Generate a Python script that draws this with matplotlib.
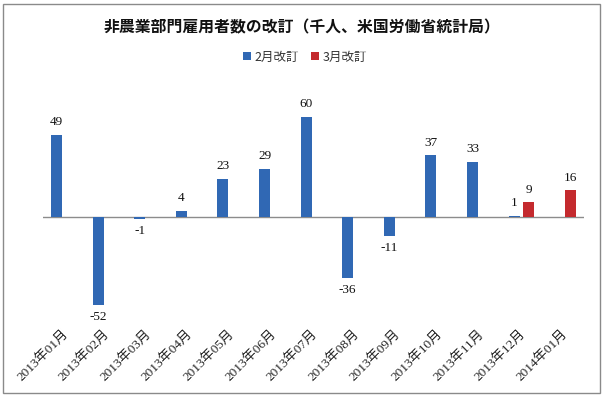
import numpy as np
import matplotlib
matplotlib.use("Agg")
import matplotlib.pyplot as plt
from matplotlib.patches import Rectangle, Patch

categories = ["2013年01月", "2013年02月", "2013年03月", "2013年04月", "2013年05月",
              "2013年06月", "2013年07月", "2013年08月", "2013年09月", "2013年10月",
              "2013年11月", "2013年12月", "2014年01月"]
feb_rev = [49, -52, -1, 4, 23, 29, 60, -36, -11, 37, 33, 1, None]
mar_rev = [None, None, None, None, None, None, None, None, None, None, None, 9, 16]
series_names = ["2月改訂", "3月改訂"]
title = "非農業部門雇用者数の改訂（千人、米国労働省統計局）"

BLUE = "#3068B4"
RED = "#C42A2E"
SERIF = ["Liberation Serif", "Noto Sans CJK JP"]
SANS = ["Noto Sans CJK JP", "DejaVu Sans"]

W, H = 604, 399
fig = plt.figure(figsize=(W / 100, H / 100), dpi=100)
fig.patch.set_facecolor("white")

# axes in pixel coords
ax_left, ax_right, ax_top, ax_bottom = 42.9, 583.7, 99.7, 319.8
ax = fig.add_axes([ax_left / W, 1 - ax_bottom / H, (ax_right - ax_left) / W, (ax_bottom - ax_top) / H])
ax.set_xlim(-0.5, len(categories) - 0.5)
ax.set_ylim(-61, 70)

x = np.arange(len(categories))
bw = 0.265
off = 0.173

def draw(vals, dx, color):
    for xi, v in zip(x, vals):
        if v is None:
            continue
        ax.bar(xi + dx, v, width=bw, color=color, zorder=3)
        dy = 9 if v >= 0 else -9
        ax.annotate(str(v), (xi + dx, v), xytext=(0, dy), textcoords="offset points",
                    ha="center", va="center", fontsize=9.5, family=SERIF, color="#111111")

draw(feb_rev, -off, BLUE)
draw(mar_rev, off, RED)

ax.axhline(0, color="#8C8C8C", lw=1, zorder=2)
for s in ax.spines.values():
    s.set_visible(False)
ax.set_yticks([])
ax.set_xticks(x + 0.05)
ax.set_xticklabels(categories, rotation=45, ha="right", va="center",
                   rotation_mode="anchor", fontsize=9.5, family=SERIF, color="#222222")
ax.tick_params(axis="x", length=0, pad=9)

fig.text(302 / W, 1 - 27 / H, title, ha="center", va="center", fontsize=11.4,
         fontweight="bold", family=SANS, color="#111111")

handles = [Patch(facecolor=BLUE, label=series_names[0]), Patch(facecolor=RED, label=series_names[1])]
fig.legend(handles=handles, loc="center", bbox_to_anchor=(305 / W, 1 - 57 / H), ncol=2,
           frameon=False, prop={"family": SANS, "size": 9}, handlelength=0.6, handleheight=0.6,
           handletextpad=0.3, columnspacing=1.0, labelcolor="#333333")

fig.add_artist(Rectangle((3 / W, 1 - 393 / H), 597 / W, 389 / H, transform=fig.transFigure,
                         fill=False, edgecolor="#8A8A8A", lw=1))

fig.savefig("out.png", dpi=100, facecolor="white")
